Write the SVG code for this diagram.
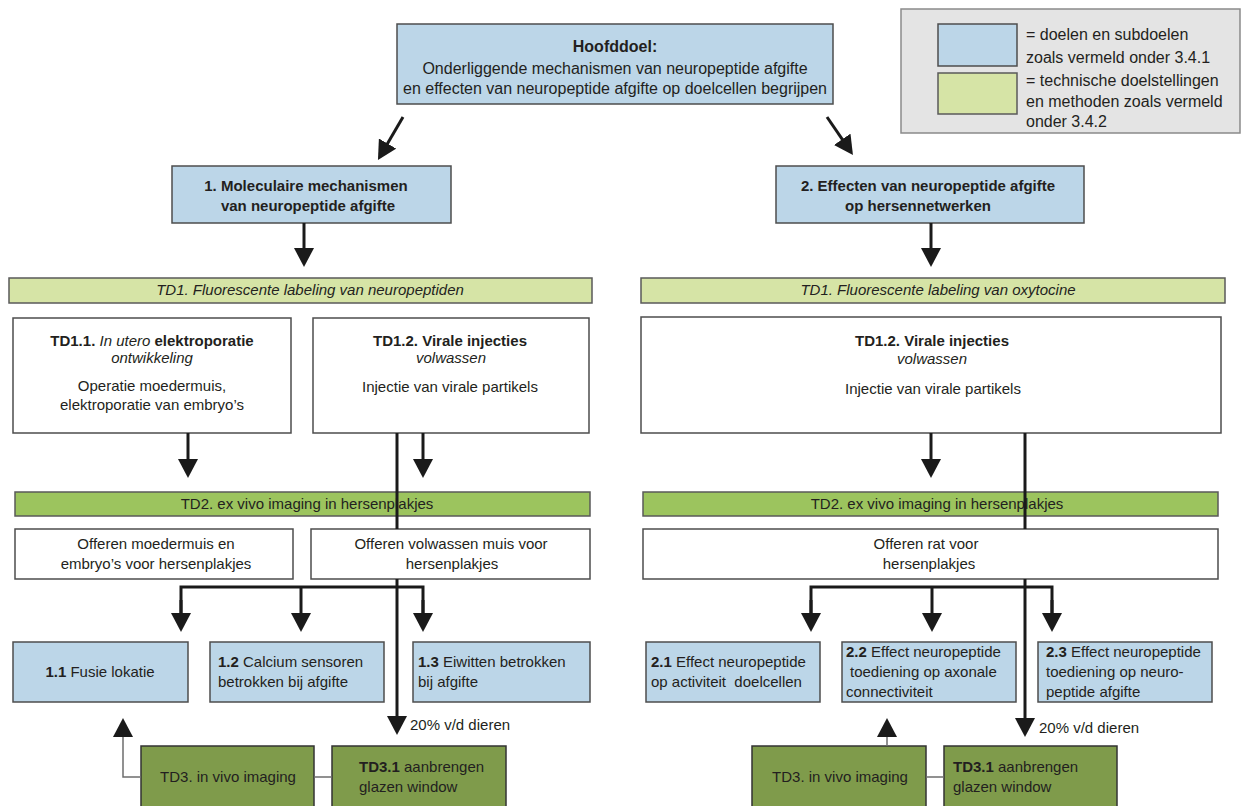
<svg xmlns="http://www.w3.org/2000/svg" width="1245" height="806" viewBox="0 0 1245 806">
<style>
.t{font-family:"Liberation Sans",Arial,sans-serif;font-size:15px;fill:#231f20}
.h{font-size:16px}
.c{text-anchor:middle}
.b{font-weight:bold}
.i{font-style:italic}
.blue{fill:#bcd6e8;stroke:#4d4d4d;stroke-width:1.5}
.lg{fill:#d6e4a6;stroke:#5a5a5a;stroke-width:1.5}
.mg{fill:#9cc45e;stroke:#5a5a5a;stroke-width:1.5}
.dg{fill:#7f9b4b;stroke:#333;stroke-width:1.5}
.w{fill:#fff;stroke:#4d4d4d;stroke-width:1.5}
.arr{fill:none;stroke:#1a1a1a;stroke-width:3;marker-end:url(#ah)}
.thin{fill:none;stroke:#6d6d6d;stroke-width:1.5}
.thinar{fill:none;stroke:#6d6d6d;stroke-width:1.5;marker-end:url(#ah)}
</style>
<defs>
<marker id="ah" viewBox="0 0 19 20" markerWidth="19" markerHeight="20" markerUnits="userSpaceOnUse" refX="9" refY="10" orient="auto">
<path d="M0,0 L19,10 L0,20 z" fill="#1a1a1a"/>
</marker>
</defs>
<rect width="1245" height="806" fill="#fff"/>

<g id="legend">
<rect x="901" y="9" width="339" height="124" fill="#e4e4e4" stroke="#8a8a8a" stroke-width="1.5"/>
<rect x="938" y="24" width="79" height="42" class="blue"/>
<rect x="938" y="73" width="79" height="41" class="lg"/>
<text class="t h" x="1026" y="40">= doelen en subdoelen</text>
<text class="t h" x="1026" y="63">zoals vermeld onder 3.4.1</text>
<text class="t h" x="1026" y="86">= technische doelstellingen</text>
<text class="t h" x="1026" y="107">en methoden zoals vermeld</text>
<text class="t h" x="1026" y="127">onder 3.4.2</text>
</g>

<g id="hoofddoel">
<rect x="397" y="24" width="436" height="80" class="blue"/>
<text class="t h c b" x="615" y="52">Hoofddoel:</text>
<text class="t h c" x="615" y="74">Onderliggende mechanismen van neuropeptide afgifte</text>
<text class="t h c" x="615" y="94">en effecten van neuropeptide afgifte op doelcellen begrijpen</text>
</g>

<g id="doel1">
<rect x="172" y="166" width="279" height="57" class="blue"/>
<text class="t c b" x="306" y="191">1. Moleculaire mechanismen</text>
<text class="t c b" x="308" y="211">van neuropeptide afgifte</text>
</g>

<g id="doel2">
<rect x="776" y="166" width="308" height="57" class="blue"/>
<text class="t c b" x="928" y="191">2. Effecten van neuropeptide afgifte</text>
<text class="t c b" x="918" y="211">op hersennetwerken</text>
</g>

<g id="td1-left">
<rect x="9" y="278" width="583" height="25" class="lg"/>
<text class="t c i" x="310" y="295">TD1. Fluorescente labeling van neuropeptiden</text>
</g>

<g id="td1-right">
<rect x="641" y="278" width="584" height="25" class="lg"/>
<text class="t c i" x="938" y="295">TD1. Fluorescente labeling van oxytocine</text>
</g>

<g id="td11">
<rect x="13" y="318" width="278" height="115" class="w"/>
<text class="t c" x="152" y="346"><tspan class="b">TD1.1. </tspan><tspan class="i"> In utero</tspan><tspan class="b"> elektroporatie</tspan></text>
<text class="t c i" x="152" y="363">ontwikkeling</text>
<text class="t c" x="152" y="391">Operatie moedermuis,</text>
<text class="t c" x="152" y="410">elektroporatie van embryo’s</text>
</g>

<g id="td12-left">
<rect x="313" y="318" width="276" height="115" class="w"/>
<text class="t c b" x="450" y="346">TD1.2.  Virale injecties</text>
<text class="t c i" x="451" y="363">volwassen</text>
<text class="t c" x="450" y="392">Injectie van virale partikels</text>
</g>

<g id="td12-right">
<rect x="641" y="317" width="580" height="116" class="w"/>
<text class="t c b" x="932" y="346">TD1.2.  Virale injecties</text>
<text class="t c i" x="932" y="364">volwassen</text>
<text class="t c" x="933" y="394">Injectie van virale partikels</text>
</g>

<g id="td2-left">
<rect x="15" y="492" width="575" height="24" class="mg"/>
<text class="t c" x="307" y="509">TD2. ex vivo imaging in hersenplakjes</text>
</g>

<g id="td2-right">
<rect x="643" y="492" width="575" height="24" class="mg"/>
<text class="t c" x="937" y="509">TD2. ex vivo imaging in hersenplakjes</text>
</g>

<g id="offeren-1">
<rect x="15" y="529" width="278" height="50" class="w"/>
<text class="t c" x="156" y="549">Offeren moedermuis en</text>
<text class="t c" x="156" y="569">embryo’s voor hersenplakjes</text>
</g>

<g id="offeren-2">
<rect x="311" y="529" width="279" height="50" class="w"/>
<text class="t c" x="451" y="549">Offeren volwassen muis voor</text>
<text class="t c" x="452" y="569">hersenplakjes</text>
</g>

<g id="offeren-rat">
<rect x="643" y="529" width="575" height="50" class="w"/>
<text class="t c" x="926" y="549">Offeren rat voor</text>
<text class="t c" x="929" y="569">hersenplakjes</text>
</g>

<g id="doel11">
<rect x="13" y="642" width="175" height="60" class="blue"/>
<text class="t c" x="100" y="677"><tspan class="b">1.1</tspan> Fusie lokatie</text>
</g>

<g id="doel12">
<rect x="210" y="642" width="174" height="60" class="blue"/>
<text class="t" x="218" y="667"><tspan class="b">1.2</tspan> Calcium sensoren</text>
<text class="t" x="218" y="687">betrokken bij afgifte</text>
</g>

<g id="doel13">
<rect x="413" y="642" width="177" height="60" class="blue"/>
<text class="t" x="418" y="667"><tspan class="b">1.3</tspan> Eiwitten betrokken</text>
<text class="t" x="418" y="687">bij afgifte</text>
</g>

<g id="doel21">
<rect x="646" y="642" width="174" height="60" class="blue"/>
<text class="t" x="651" y="667"><tspan class="b">2.1</tspan> Effect neuropeptide</text>
<text class="t" x="651" y="687" xml:space="preserve">op activiteit  doelcellen</text>
</g>

<g id="doel22">
<rect x="842" y="642" width="174" height="60" class="blue"/>
<text class="t" x="846" y="657"><tspan class="b">2.2</tspan> Effect neuropeptide</text>
<text class="t" x="850" y="677">toediening op axonale</text>
<text class="t" x="846" y="697">connectiviteit</text>
</g>

<g id="doel23">
<rect x="1038" y="642" width="174" height="60" class="blue"/>
<text class="t" x="1046" y="657"><tspan class="b">2.3</tspan> Effect neuropeptide</text>
<text class="t" x="1046" y="677">toediening op neuro-</text>
<text class="t" x="1046" y="697">peptide afgifte</text>
</g>

<g id="td3-left">
<rect x="141" y="746" width="173" height="80" class="dg"/>
<text class="t c" x="228" y="782">TD3. in vivo imaging</text>
</g>

<g id="td31-left">
<rect x="332" y="746" width="174" height="80" class="dg"/>
<text class="t" x="359" y="772"><tspan class="b">TD3.1</tspan> aanbrengen</text>
<text class="t" x="359" y="792">glazen window</text>
</g>

<g id="td3-right">
<rect x="752" y="746" width="174" height="80" class="dg"/>
<text class="t c" x="840" y="782">TD3. in vivo imaging</text>
</g>

<g id="td31-right">
<rect x="944" y="746" width="173" height="80" class="dg"/>
<text class="t" x="953" y="772"><tspan class="b">TD3.1</tspan> aanbrengen</text>
<text class="t" x="953" y="792">glazen window</text>
</g>

<g id="connectors">
<path class="arr" d="M403,117 L383,151.3"/>
<path class="arr" d="M827,117 L847.3,146.7"/>
<path class="arr" d="M304,223 V257"/>
<path class="arr" d="M931,223 V257"/>
<path class="arr" d="M188,433 V468"/>
<path class="arr" d="M423,433 V468"/>
<path class="arr" d="M931,433 V468"/>
<path fill="none" stroke="#1a1a1a" stroke-width="3" d="M397,433 V529"/>
<path class="arr" d="M397,579 V725"/>
<path fill="none" stroke="#1a1a1a" stroke-width="3" d="M1025,433 V529"/>
<path class="arr" d="M1025,579 V727"/>
<path fill="none" stroke="#1a1a1a" stroke-width="3" d="M181,622 V587 H423 V622"/>
<path class="arr" d="M181,600 V622"/>
<path class="arr" d="M301,587 V622"/>
<path class="arr" d="M423,600 V622"/>
<path fill="none" stroke="#1a1a1a" stroke-width="3" d="M811,622 V587 H1052 V622"/>
<path class="arr" d="M811,600 V622"/>
<path class="arr" d="M932,587 V622"/>
<path class="arr" d="M1052,600 V622"/>
<path class="thinar" d="M141,777 H123 V728"/>
<path class="thinar" d="M887,746 V728"/>
<path class="thin" d="M314,777 H332"/>
<path class="thin" d="M926,777 H944"/>
</g>
<g id="labels">
<text class="t" x="410" y="730">20% v/d dieren</text>
<text class="t" x="1039" y="733">20% v/d dieren</text>
</g>
</svg>
